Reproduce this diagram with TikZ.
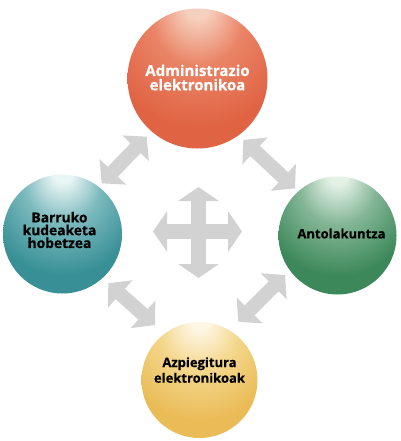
\documentclass[tikz,border=0pt]{standalone}
\usepackage{fontspec}
\setmainfont{Open Sans}[BoldFeatures={FakeBold=0.4}]
\usetikzlibrary{arrows.meta}

\definecolor{arrgray}{RGB}{210,210,210}
% red (top)
\definecolor{redhi}{RGB}{246,208,190}
\definecolor{redmid}{RGB}{234,132,102}
\definecolor{redbase}{RGB}{224,100,68}
\definecolor{reddark}{RGB}{210,82,52}
% teal (left)
\definecolor{teahi}{RGB}{234,245,245}
\definecolor{teamid}{RGB}{124,186,190}
\definecolor{teabase}{RGB}{56,144,150}
\definecolor{teadark}{RGB}{28,118,124}
% green (right)
\definecolor{grehi}{RGB}{228,241,230}
\definecolor{gremid}{RGB}{132,182,150}
\definecolor{grebase}{RGB}{60,136,90}
\definecolor{gredark}{RGB}{24,106,60}
% gold (bottom)
\definecolor{golhi}{RGB}{254,246,228}
\definecolor{golmid}{RGB}{244,216,142}
\definecolor{golbase}{RGB}{234,188,88}
\definecolor{goldark}{RGB}{220,156,44}

\pgfdeclareradialshading{sphRed}{\pgfpoint{0bp}{27bp}}{color(0bp)=(redhi); color(4bp)=(redhi); color(16bp)=(redmid); color(32bp)=(redbase); color(48bp)=(redbase); color(60bp)=(reddark); color(70bp)=(reddark)}
\pgfdeclareradialshading{sphTeal}{\pgfpoint{0bp}{27bp}}{color(0bp)=(teahi); color(4bp)=(teahi); color(16bp)=(teamid); color(32bp)=(teabase); color(48bp)=(teabase); color(60bp)=(teadark); color(70bp)=(teadark)}
\pgfdeclareradialshading{sphGreen}{\pgfpoint{0bp}{27bp}}{color(0bp)=(grehi); color(4bp)=(grehi); color(16bp)=(gremid); color(32bp)=(grebase); color(48bp)=(grebase); color(60bp)=(gredark); color(70bp)=(gredark)}
\pgfdeclareradialshading{sphGold}{\pgfpoint{0bp}{27bp}}{color(0bp)=(golhi); color(4bp)=(golhi); color(16bp)=(golmid); color(32bp)=(golbase); color(48bp)=(golbase); color(60bp)=(goldark); color(70bp)=(goldark)}

\tikzset{
  sphere/.style={circle, inner sep=0pt, outer sep=0pt},
  dblarrow/.style={draw=arrgray, line width=14pt,
    {Triangle[length=16pt,width=36pt]}-{Triangle[length=16pt,width=36pt]}},
  crossarrow/.style={draw=arrgray, line width=15pt,
    {Triangle[length=14pt,width=40pt]}-{Triangle[length=14pt,width=40pt]}},
  lbl/.style={align=center, font=\bfseries\fontsize{13}{12.7}\selectfont}
}

\begin{document}
\begin{tikzpicture}[x=1pt,y=-1pt]
\fill[white] (0,0) rectangle (400,441);
\useasboundingbox (0,0) rectangle (400,441);

\node[sphere, minimum size=140pt, shading=sphRed,
  label={[lbl, text=white, font=\bfseries\fontsize{15}{14.3}\selectfont, yshift=1pt]center:Administrazio\\elektronikoa}]
  (adm) at (197.5,78.5) {};
\node[sphere, minimum size=119pt, shading=sphTeal,
  label={[lbl, text=black, font=\bfseries\fontsize{13.8}{12.8}\selectfont, xshift=-3pt, yshift=4pt]center:Barruko\\kudeaketa\\hobetzea}]
  (bar) at (62.5,234) {};
\node[sphere, minimum size=118pt, shading=sphGreen,
  label={[lbl, text=black, xshift=4pt, yshift=2pt]center:Antolakuntza}]
  (ant) at (337.5,235.5) {};
\node[sphere, minimum size=116pt, shading=sphGold,
  label={[lbl, text=black, font=\bfseries\fontsize{13}{15.6}\selectfont, yshift=10pt]center:Azpiegitura\\elektronikoak}]
  (azp) at (199.5,380) {};

\coordinate (tlA) at (101.7,183.3);
\coordinate (tlB) at (146.7,136.7);
\coordinate (trA) at (243.3,140);
\coordinate (trB) at (295,188.3);
\coordinate (blA) at (108.3,283.3);
\coordinate (blB) at (155,325);
\coordinate (brA) at (238.3,321.7);
\coordinate (brB) at (285,275);
\coordinate (cT) at (198.5,187);
\coordinate (cB) at (198.5,278);
\coordinate (cL) at (153,231.5);
\coordinate (cR) at (242,231.5);

\draw[dblarrow] (tlA) -- (tlB);
\draw[dblarrow] (trA) -- (trB);
\draw[dblarrow] (blA) -- (blB);
\draw[dblarrow] (brA) -- (brB);
\draw[crossarrow] (cT) -- (cB);
\draw[crossarrow] (cL) -- (cR);
\end{tikzpicture}
\end{document}
